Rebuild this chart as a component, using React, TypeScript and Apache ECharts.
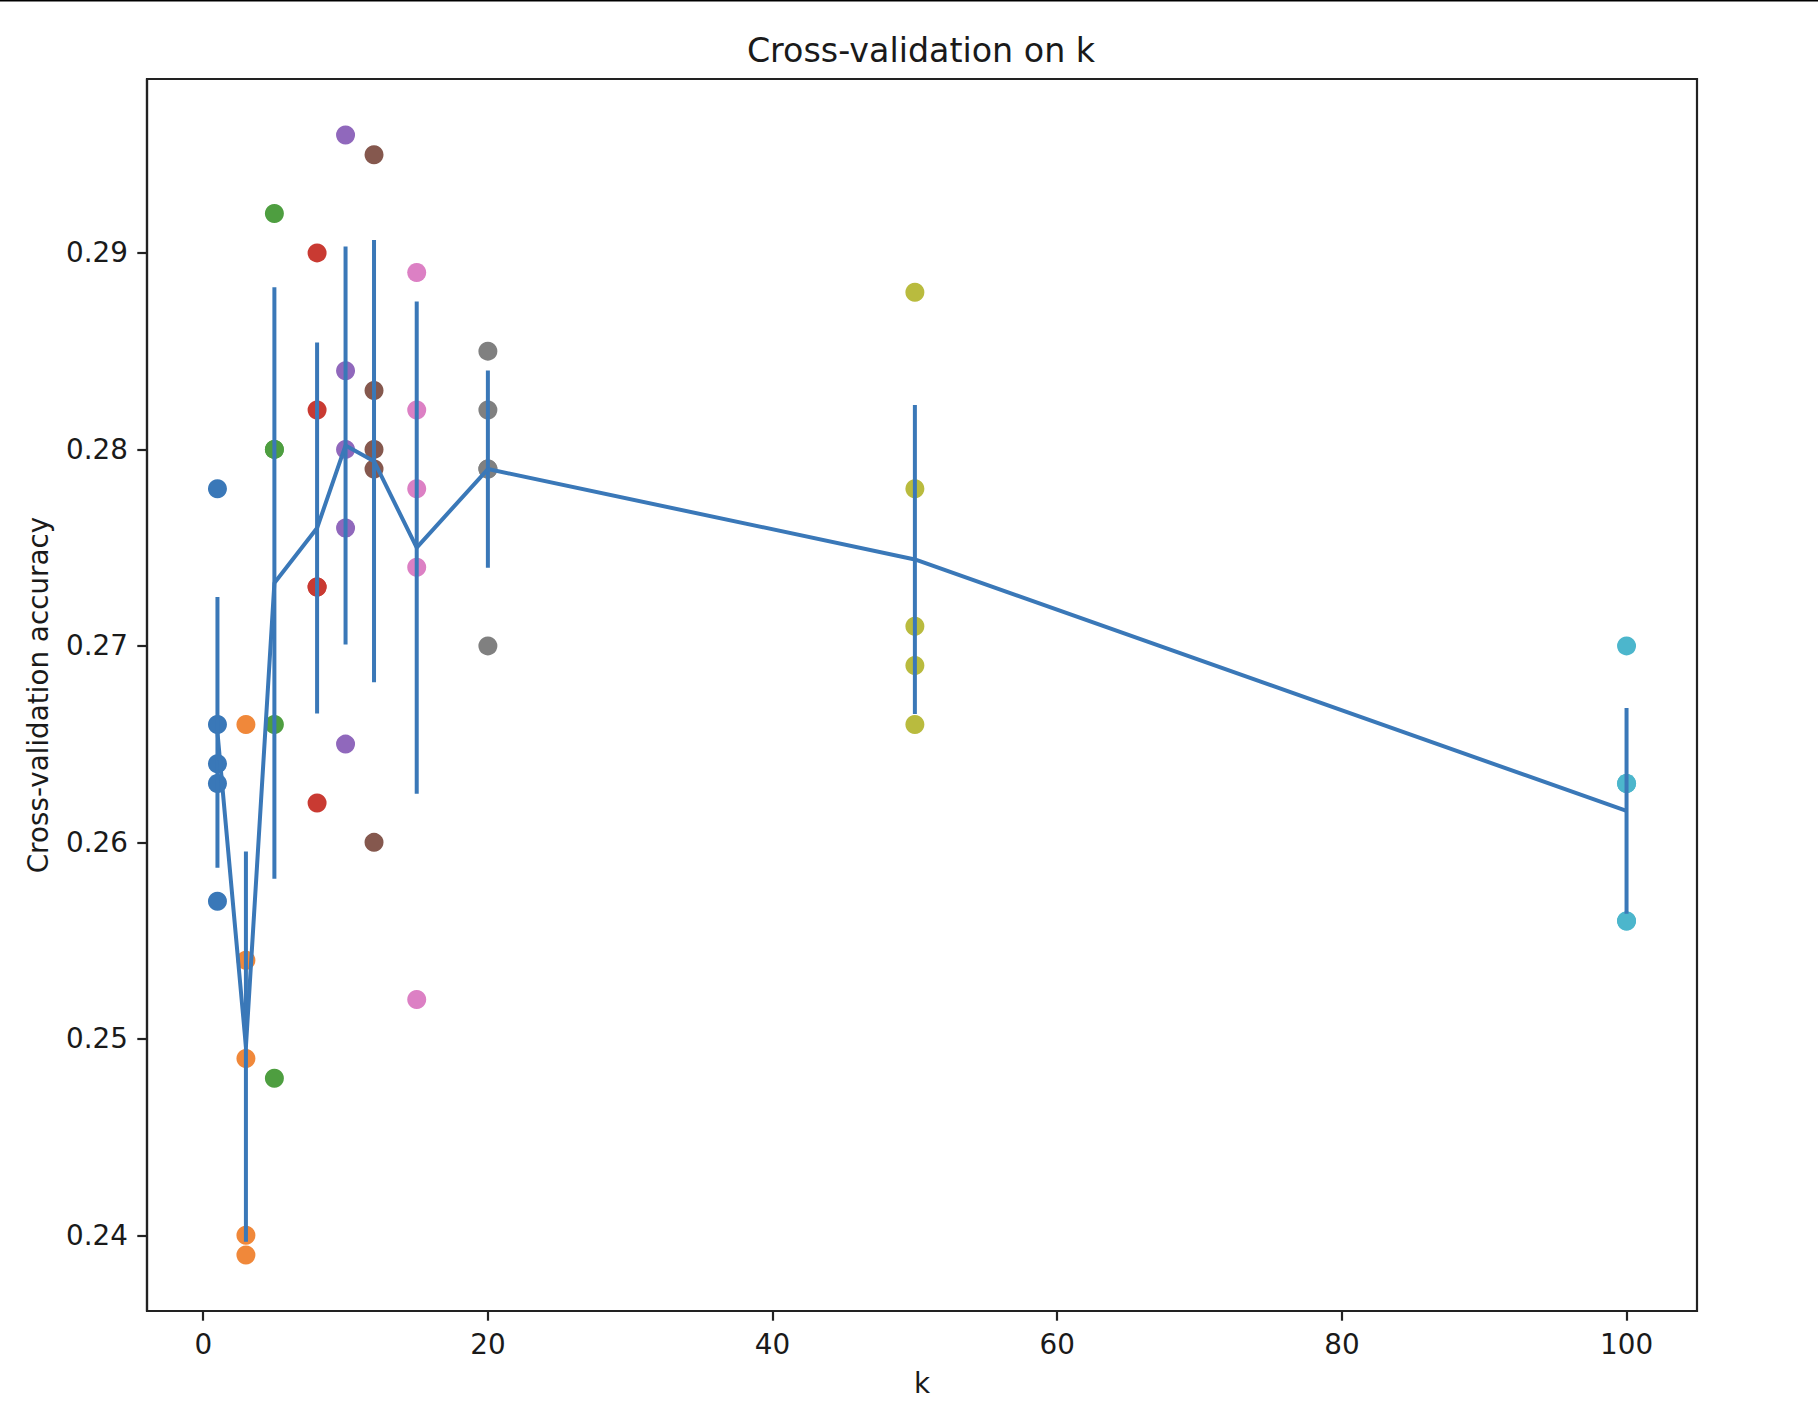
import React, { useEffect, useRef } from "react";
import * as echarts from "echarts";

// k values tried in cross-validation
const kChoices = [1, 3, 5, 8, 10, 12, 15, 20, 50, 100];

// fold accuracies for each k (5 folds)
const accK1 = [0.263, 0.257, 0.264, 0.278, 0.266];
const accK3 = [0.239, 0.249, 0.24, 0.266, 0.254];
const accK5 = [0.248, 0.266, 0.28, 0.292, 0.28];
const accK8 = [0.262, 0.282, 0.273, 0.29, 0.273];
const accK10 = [0.265, 0.296, 0.276, 0.284, 0.28];
const accK12 = [0.26, 0.295, 0.279, 0.283, 0.28];
const accK15 = [0.252, 0.289, 0.278, 0.282, 0.274];
const accK20 = [0.27, 0.279, 0.279, 0.282, 0.285];
const accK50 = [0.271, 0.288, 0.278, 0.269, 0.266];
const accK100 = [0.256, 0.27, 0.263, 0.256, 0.263];

const foldAccuracies = [accK1, accK3, accK5, accK8, accK10, accK12, accK15, accK20, accK50, accK100];

// tick labels
const xTicks = [0, 20, 40, 60, 80, 100];
const yTicks = [0.24, 0.25, 0.26, 0.27, 0.28, 0.29];

// point colours per k (as seen in the picture)
const pointColors = [
  "#3a78b8",
  "#f0883a",
  "#4e9e40",
  "#c93a32",
  "#9068bc",
  "#85584e",
  "#dc80c4",
  "#808080",
  "#b9bb3e",
  "#4cb6cc",
];
const lineColor = "#3a78b8";

const FONT = "DejaVu Sans";
const TEXT = "#1a1a1a";
const FRAME = "#222222";

export default function App() {
  const ref = useRef<HTMLDivElement>(null);

  useEffect(() => {
    if (!ref.current) return;
    const chart = echarts.init(ref.current, undefined, { renderer: "svg" });

    const means = foldAccuracies.map((a) => a.reduce((s, v) => s + v, 0) / a.length);
    const stds = foldAccuracies.map((a, i) => {
      const m = means[i];
      return Math.sqrt(a.reduce((s, v) => s + (v - m) * (v - m), 0) / a.length);
    });

    const scatterSeries = kChoices.map((k, i) => ({
      type: "scatter",
      name: "k=" + k,
      data: foldAccuracies[i].map((v) => [k, v]),
      symbol: "circle",
      symbolSize: 19,
      itemStyle: { color: pointColors[i], opacity: 1 },
      z: 2,
    }));

    const option = {
      animation: false,
      backgroundColor: "#ffffff",
      textStyle: { fontFamily: FONT },
      grid: {
        left: 147,
        top: 79,
        width: 1550,
        height: 1232,
        show: true,
        borderColor: FRAME,
        borderWidth: 2.2,
        backgroundColor: "transparent",
        containLabel: false,
      },
      xAxis: {
        type: "value",
        min: -3.95,
        max: 104.95,
        name: "k",
        nameLocation: "middle",
        nameGap: 58,
        nameTextStyle: { fontFamily: FONT, fontSize: 27.8, color: TEXT },
        axisLine: { show: true, onZero: false, lineStyle: { color: FRAME, width: 2.2 } },
        axisTick: {
          show: true,
          length: 9.7,
          inside: false,
          customValues: xTicks,
          lineStyle: { color: FRAME, width: 2.2 },
        },
        axisLabel: {
          show: true,
          margin: 19,
          customValues: xTicks,
          fontFamily: FONT,
          fontSize: 27.8,
          color: TEXT,
          formatter: (v: number) => String(v),
        },
        splitLine: { show: false },
      },
      yAxis: {
        type: "value",
        min: 0.23615,
        max: 0.29885,
        name: "Cross-validation accuracy",
        nameLocation: "middle",
        nameRotate: 90,
        nameGap: 95,
        nameTextStyle: { fontFamily: FONT, fontSize: 27.8, color: TEXT },
        axisLine: { show: true, onZero: false, lineStyle: { color: FRAME, width: 2.2 } },
        axisTick: {
          show: true,
          length: 9.7,
          inside: false,
          customValues: yTicks,
          lineStyle: { color: FRAME, width: 2.2 },
        },
        axisLabel: {
          show: true,
          margin: 19,
          customValues: yTicks,
          fontFamily: FONT,
          fontSize: 27.8,
          color: TEXT,
          formatter: (v: number) => v.toFixed(2),
        },
        splitLine: { show: false },
      },
      graphic: [
        {
          type: "rect",
          shape: { x: 0, y: 0, width: 1818, height: 1.5 },
          style: { fill: "#000000" },
          silent: true,
        },
        {
          type: "text",
          x: 921,
          y: 50,
          style: {
            text: "Cross-validation on k",
            fontFamily: FONT,
            fontSize: 33.3,
            fill: TEXT,
            align: "center",
            verticalAlign: "middle",
          },
          silent: true,
        },
      ],
      series: [
        ...scatterSeries,
        {
          type: "line",
          name: "mean",
          data: kChoices.map((k, i) => [k, means[i]]),
          showSymbol: false,
          symbol: "none",
          lineStyle: { color: lineColor, width: 4 },
          itemStyle: { color: lineColor },
          z: 5,
        },
        {
          type: "custom",
          name: "std",
          data: kChoices.map((k, i) => [k, means[i] - stds[i], means[i] + stds[i]]),
          encode: { x: 0, y: [1, 2] },
          z: 5,
          renderItem: (params: any, api: any) => {
            const x = api.value(0);
            const p1 = api.coord([x, api.value(1)]);
            const p2 = api.coord([x, api.value(2)]);
            return {
              type: "line",
              shape: { x1: p1[0], y1: p1[1], x2: p2[0], y2: p2[1] },
              style: { stroke: lineColor, lineWidth: 4 },
            };
          },
        },
      ],
    };

    chart.setOption(option as any);
    return () => chart.dispose();
  }, []);

  return (
    <div
      ref={ref}
      style={{ position: "fixed", left: 0, top: 0, width: 1818, height: 1422, background: "#fff" }}
    />
  );
}
